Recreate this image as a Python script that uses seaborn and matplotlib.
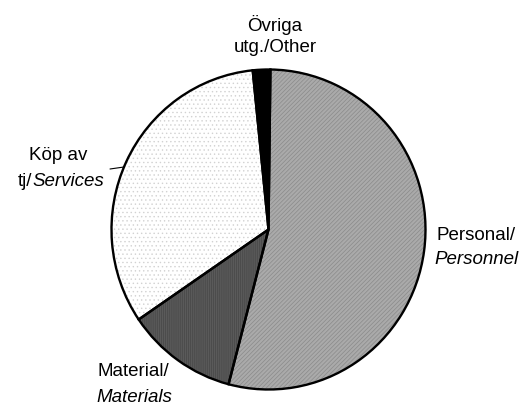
import matplotlib
matplotlib.use("Agg")
import matplotlib.pyplot as plt
from matplotlib.lines import Line2D
import seaborn as sns

# Expense shares (%), clockwise from 12 o'clock
categories = ["Personal/Personnel", "Material/Materials", "Köp av tj/Services", "Övriga utg./Other"]
shares = [53.9, 11.4, 32.9, 1.8]

face_colors = ["#aaaaaa", "#5a5a5a", "#ffffff", "#000000"]
hatch_colors = ["#8a8a8a", "#464646", "#d2d2d2", "#000000"]
hatches = ["////////", "||||||||", "....", None]

sns.set_theme(style="white")
plt.rcParams["font.family"] = ["Liberation Sans", "DejaVu Sans"]
plt.rcParams["text.color"] = "black"
plt.rcParams["hatch.linewidth"] = 0.5

W, H = 524, 407
fig = plt.figure(figsize=(W / 100, H / 100), dpi=100)
fig.patch.set_facecolor("white")

# pie placed by pixel geometry: centre (268.5, 229.5), radii 157 x 160
cx, cy, rx, ry = 268.5, 229.5, 157, 160
ax = fig.add_axes([(cx - rx) / W, 1 - (cy + ry) / H, 2 * rx / W, 2 * ry / H])

# fill layer (hatch colour comes from the edge colour)
wedges, _ = ax.pie(shares, startangle=89.3, counterclock=False, radius=1,
                   colors=face_colors,
                   wedgeprops=dict(linewidth=0))
for w, hc, h in zip(wedges, hatch_colors, hatches):
    w.set_edgecolor(hc)
    if h:
        w.set_hatch(h)

# outline layer
ax.pie(shares, startangle=89.3, counterclock=False, radius=1,
       wedgeprops=dict(fill=False, edgecolor="black", linewidth=1.7))

ax.set_xlim(-1.0, 1.0)
ax.set_ylim(-1.0, 1.0)
ax.set_aspect("auto")
ax.axis("off")


def px(x, y):
    return x / W, 1 - y / H


fs = 13.5
# Övriga utg./Other
fig.text(*px(275, 25), "Övriga", ha="center", va="center", fontsize=fs)
fig.text(*px(275, 48), "utg./Other", ha="center", va="center", fontsize=fs)

# Köp av tj/Services
fig.text(*px(58, 155), "Köp av", ha="center", va="center", fontsize=fs)
fig.text(*px(32, 182), "tj/", ha="right", va="center", fontsize=fs)
fig.text(*px(32, 182), "Services", ha="left", va="center", fontsize=fs, style="italic")
fig.add_artist(Line2D([110 / W, 124 / W], [1 - 169 / H, 1 - 167 / H],
                      color="black", linewidth=0.8))

# Personal/Personnel
fig.text(*px(476, 236), "Personal/", ha="center", va="center", fontsize=fs)
fig.text(*px(476, 260), "Personnel", ha="center", va="center", fontsize=fs, style="italic")

# Material/Materials
fig.text(*px(133, 371), "Material/", ha="center", va="center", fontsize=fs)
fig.text(*px(134, 397), "Materials", ha="center", va="center", fontsize=fs, style="italic")

fig.savefig("out.png", dpi=100, facecolor="white")
